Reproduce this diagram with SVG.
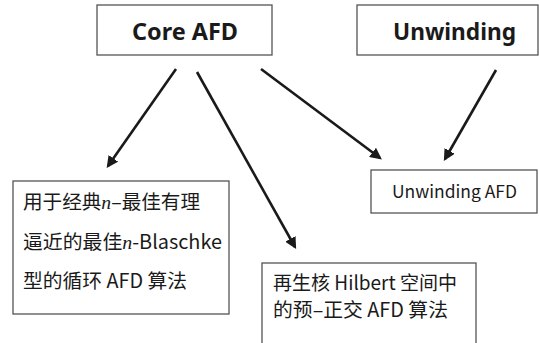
<svg xmlns="http://www.w3.org/2000/svg" width="539" height="343" viewBox="0 0 539 343">
<style>
.box{fill:#fff;stroke:#555;stroke-width:1.3}
.t{font-family:"Noto Sans CJK SC","Noto Sans",sans-serif;fill:#1a1a1a}
.b{font-family:"Noto Sans","Liberation Sans",sans-serif;font-weight:bold;font-size:24px;fill:#1a1a1a}
.n{font-family:"Liberation Serif",serif;font-style:italic}
.c{stroke:#1a1a1a;stroke-width:2.6;fill:none;marker-end:url(#ah)}
</style>
<defs>
<marker id="ah" viewBox="0 0 10 10" refX="8" refY="5" markerWidth="4.5" markerHeight="4.5" orient="auto" markerUnits="strokeWidth">
<path d="M0,0 L10,5 L0,10 z" fill="#1a1a1a"/>
</marker>
</defs>
<rect width="539" height="343" fill="#fff"/>
<g id="core">
<rect class="box" x="97" y="5" width="175" height="50"/>
<text class="b" x="185" y="40" text-anchor="middle" textLength="106" lengthAdjust="spacingAndGlyphs">Core AFD</text>
</g>
<g id="unwinding">
<rect class="box" x="357" y="5" width="181" height="50"/>
<text class="b" x="454.5" y="40" text-anchor="middle" textLength="123" lengthAdjust="spacingAndGlyphs">Unwinding</text>
</g>
<g id="cyclic">
<rect class="box" x="13" y="181" width="216" height="133"/>
<text class="t" font-size="19.5" x="23" y="209" textLength="177" lengthAdjust="spacingAndGlyphs">用于经典<tspan class="n">n</tspan>–最佳有理</text>
<text class="t" font-size="19.5" x="23" y="249" textLength="199" lengthAdjust="spacingAndGlyphs">逼近的最佳<tspan class="n">n</tspan>-Blaschke</text>
<text class="t" font-size="19.5" x="23" y="288" textLength="164" lengthAdjust="spacingAndGlyphs">型的循环 AFD 算法</text>
</g>
<g id="preortho">
<rect class="box" x="262" y="263" width="214" height="82"/>
<text class="t" font-size="19.5" x="273" y="290" textLength="184" lengthAdjust="spacingAndGlyphs">再生核 Hilbert 空间中</text>
<text class="t" font-size="19.5" x="273" y="317" textLength="175" lengthAdjust="spacingAndGlyphs">的预–正交 AFD 算法</text>
</g>
<g id="unwindingafd">
<rect class="box" x="371" y="170" width="166" height="43"/>
<text class="t" font-size="17" x="454.5" y="198" text-anchor="middle" textLength="125" lengthAdjust="spacingAndGlyphs">Unwinding AFD</text>
</g>
<g id="connectors">
<line class="c" x1="176" y1="69" x2="108" y2="166"/>
<line class="c" x1="197" y1="72" x2="295" y2="247"/>
<line class="c" x1="261" y1="69" x2="380" y2="158"/>
<line class="c" x1="496" y1="70" x2="445" y2="159"/>
</g>
</svg>
